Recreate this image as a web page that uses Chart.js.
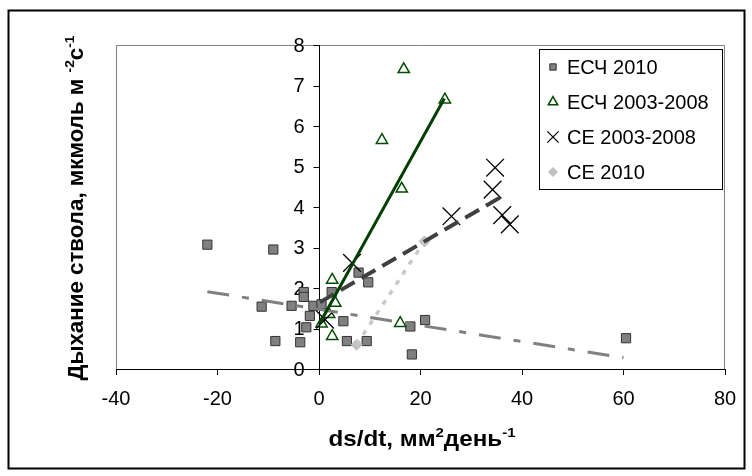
<!DOCTYPE html>
<html>
<head>
<meta charset="utf-8">
<script src="https://cdn.jsdelivr.net/npm/chart.js@4.4.1/dist/chart.umd.min.js"></script>
<style>
  html, body { margin: 0; padding: 0; background: #fff; }
  #wrap { width: 752px; height: 476px; }
</style>
</head>
<body>
<div id="wrap"><canvas id="chart" width="752" height="476"></canvas></div>
<script>
// series
const esch2010X = [-22, -9, -11.3, -5.4, -8.6, -3.7, -3, -3, -1.1, -1.8, -2.5, 0.5, 2.5, 4.8, 5.5, 7.8, 9.7, 9.4, 18, 18.3, 20.9, 60.5];
const esch2010Y = [3.07, 2.95, 1.54, 1.56, 0.69, 0.66, 1.9, 1.78, 1.56, 1.31, 1.03, 1.6, 1.9, 1.18, 0.69, 2.38, 2.14, 0.69, 1.05, 0.36, 1.21, 0.76];

const esch0308X = [16.7, 24.8, 12.4, 16.3, 2.6, 3.2, 2.0, 0.5, 2.6, 16.0];
const esch0308Y = [7.4, 6.65, 5.65, 4.45, 2.2, 1.63, 1.35, 1.12, 0.81, 1.13];

const ce0308X = [1.2, 6.5, 26.1, 34.2, 34.7, 36.1, 37.6];
const ce0308Y = [1.22, 2.62, 3.77, 4.43, 4.97, 3.8, 3.57];

const ce2010X = [7.4, 20.8];
const ce2010Y = [0.6, 3.15];

// trend line end points
const esch2010TrendX = [-22, 60];
const esch2010TrendY = [1.91, 0.28];
const esch0308TrendX = [0, 24.7];
const esch0308TrendY = [1.1, 6.68];
const ce0308TrendX = [0.2, 36.3];
const ce0308TrendY = [1.65, 4.28];
const ce2010TrendX = [7.4, 21];
const ce2010TrendY = [0.6, 3.2];

const seriesNames = ["ЕСЧ 2010", "ЕСЧ 2003-2008", "СЕ 2003-2008", "СЕ 2010"];

const xMin = -40, xMax = 80, xStep = 20;
const yMin = 0, yMax = 8, yStep = 1;

const FONT = "'Liberation Sans', Arial, sans-serif";

function pts(xs, ys) {
  return xs.map((x, i) => ({ x: x, y: ys[i] }));
}

function trend(xs, ys, color, width, dash) {
  return {
    label: "",
    data: pts(xs, ys),
    showLine: true,
    borderColor: color,
    borderWidth: width,
    borderDash: dash,
    pointRadius: 0,
    fill: false,
    isTrend: true
  };
}

const datasets = [
  trend(esch0308TrendX, esch0308TrendY, "#003f00", 3, []),
  trend(ce0308TrendX, ce0308TrendY, "#404040", 4, [16, 8]),
  trend(ce2010TrendX, ce2010TrendY, "#c8c8c8", 3.5, [5, 7]),
  trend(esch2010TrendX, esch2010TrendY, "#808080", 3, [22, 13, 7, 13]),
  {
    label: seriesNames[2],
    data: pts(ce0308X, ce0308Y),
    pointStyle: "crossRot",
    pointRadius: 12.5,
    borderColor: "#000",
    borderWidth: 1.3,
    backgroundColor: "#000"
  },
  {
    label: seriesNames[1],
    data: pts(esch0308X, esch0308Y),
    pointStyle: "triangle",
    pointRadius: 6.5,
    borderColor: "#004d00",
    borderWidth: 1.5,
    backgroundColor: "rgba(0,0,0,0)"
  },
  {
    label: seriesNames[3],
    data: pts(ce2010X, ce2010Y),
    pointStyle: "rectRot",
    pointRadius: 5.5,
    borderColor: "#c0c0c0",
    borderWidth: 1,
    backgroundColor: "#c0c0c0"
  },
  {
    label: seriesNames[0],
    data: pts(esch2010X, esch2010Y),
    pointStyle: "rect",
    pointRadius: 6.5,
    borderColor: "#333",
    borderWidth: 1,
    backgroundColor: "#808080"
  }
];

// draws text pieces with superscripts, returns nothing
function drawRich(ctx, parts, size, startX) {
  let x = startX;
  parts.forEach(p => {
    const s = p.sup ? size * 0.62 : size;
    ctx.font = "bold " + s + "px " + FONT;
    ctx.fillText(p.t, x, p.sup ? -size * 0.42 : 0);
    x += ctx.measureText(p.t).width;
  });
}
function richWidth(ctx, parts, size) {
  let w = 0;
  parts.forEach(p => {
    const s = p.sup ? size * 0.62 : size;
    ctx.font = "bold " + s + "px " + FONT;
    w += ctx.measureText(p.t).width;
  });
  return w;
}

const frame = {
  id: "frame",
  beforeDraw(chart) {
    const ctx = chart.ctx;
    ctx.save();
    ctx.fillStyle = "#fff";
    ctx.fillRect(0, 0, chart.width, chart.height);
    ctx.strokeStyle = "#000";
    ctx.lineWidth = 2;
    ctx.strokeRect(8.5, 10.5, 736, 458);
    ctx.restore();
  },
  beforeDatasetsDraw(chart) {
    const ctx = chart.ctx;
    const a = chart.chartArea;
    const xs = chart.scales.x, ys = chart.scales.y;
    ctx.save();
    ctx.strokeStyle = "#808080";
    ctx.lineWidth = 1;
    ctx.beginPath();
    ctx.moveTo(a.left + 0.5, a.bottom);
    ctx.lineTo(a.left + 0.5, a.top + 0.5);
    ctx.lineTo(a.right - 0.5, a.top + 0.5);
    ctx.lineTo(a.right - 0.5, a.bottom);
    ctx.stroke();

    // y axis crossing at x = 0
    const x0 = Math.round(xs.getPixelForValue(0)) + 0.5;
    ctx.strokeStyle = "#000";
    ctx.beginPath();
    ctx.moveTo(x0, a.top);
    ctx.lineTo(x0, a.bottom);
    ys.ticks.forEach(t => {
      const py = Math.round(ys.getPixelForValue(t.value)) + 0.5;
      ctx.moveTo(x0 - 6, py);
      ctx.lineTo(x0, py);
    });
    ctx.stroke();
    ctx.fillStyle = "#000";
    ctx.font = "20px " + FONT;
    ctx.textAlign = "right";
    ctx.textBaseline = "middle";
    ys.ticks.forEach(t => {
      ctx.fillText(String(t.value), x0 - 15, ys.getPixelForValue(t.value) + 1);
    });
    ctx.restore();
  },
  afterDraw(chart) {
    const ctx = chart.ctx;
    ctx.save();
    ctx.fillStyle = "#000";
    ctx.textAlign = "left";
    ctx.textBaseline = "alphabetic";

    // y title
    const yParts = [
      { t: "Дыхание ствола, мкмоль м " }, { t: "-2", sup: true },
      { t: "с" }, { t: "-1", sup: true }
    ];
    let w = richWidth(ctx, yParts, 22);
    ctx.save();
    ctx.translate(83, 208);
    ctx.rotate(-Math.PI / 2);
    ctx.scale(345 / w, 1);
    drawRich(ctx, yParts, 22, -w / 2);
    ctx.restore();

    // x title
    const xParts = [
      { t: "ds/dt, мм" }, { t: "2", sup: true },
      { t: "день" }, { t: "-1", sup: true }
    ];
    w = richWidth(ctx, xParts, 22);
    ctx.save();
    ctx.translate(422, 446);
    ctx.scale(187 / w, 1);
    drawRich(ctx, xParts, 22, -w / 2);
    ctx.restore();

    // legend
    const bx = 539, by = 49, bw = 183, bh = 140;
    ctx.fillStyle = "#fff";
    ctx.fillRect(bx, by, bw, bh);
    ctx.strokeStyle = "#000";
    ctx.lineWidth = 1;
    ctx.strokeRect(bx + 0.5, by + 0.5, bw, bh);
    const order = [7, 5, 4, 6];
    const legendSize = [4.5, 5.5, 8, 4.5];
    order.forEach((di, i) => {
      const ds = chart.data.datasets[di];
      const cy = 67 + i * 35;
      ctx.save();
      ctx.fillStyle = ds.backgroundColor;
      ctx.strokeStyle = ds.borderColor;
      ctx.lineWidth = ds.borderWidth;
      Chart.helpers.drawPoint(ctx, {
        pointStyle: ds.pointStyle, radius: legendSize[i], rotation: 0, borderWidth: ds.borderWidth
      }, 553, cy);
      ctx.restore();
      ctx.fillStyle = "#000";
      ctx.font = "20px " + FONT;
      ctx.textBaseline = "middle";
      ctx.fillText(ds.label, 567, cy + 1);
    });
    ctx.restore();
  }
};

new Chart(document.getElementById("chart"), {
  type: "scatter",
  data: { datasets: datasets },
  options: {
    responsive: false,
    animation: false,
    devicePixelRatio: 1,
    layout: { padding: { left: 116, right: 27, top: 45, bottom: 0 } },
    plugins: { legend: { display: false }, tooltip: { enabled: false } },
    scales: {
      x: {
        type: "linear",
        min: xMin, max: xMax,
        ticks: { stepSize: xStep, color: "#000", padding: 12, font: { family: FONT, size: 20 } },
        grid: { display: true, drawOnChartArea: false, drawTicks: true, tickLength: 6, color: "#000" },
        border: { display: true, color: "#000", width: 1 },
        afterFit: s => { s.height = 107; }
      },
      y: {
        type: "linear",
        min: yMin, max: yMax,
        ticks: { stepSize: yStep },
        display: false
      }
    }
  },
  plugins: [frame]
});
</script>
</body>
</html>
